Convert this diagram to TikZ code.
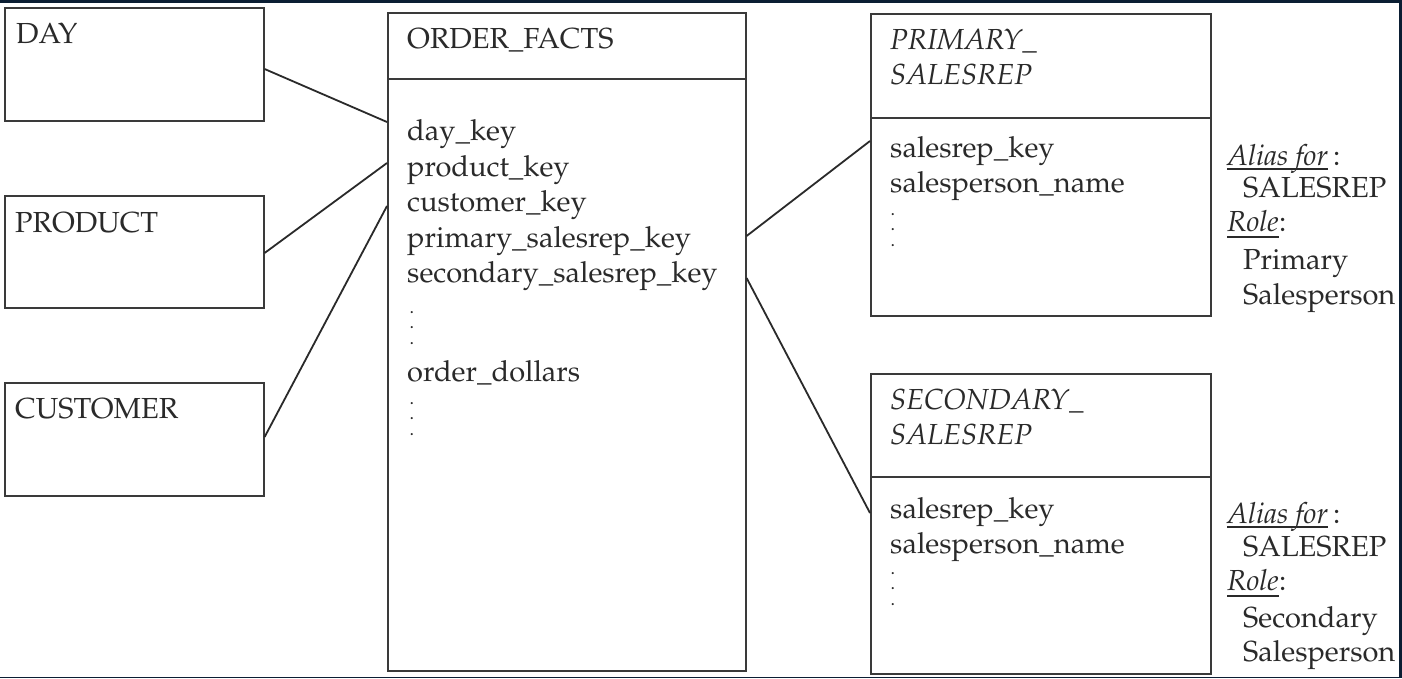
\documentclass[tikz,border=0pt]{standalone}
\usepackage[T1]{fontenc}
\usepackage{mathpazo}
\definecolor{navy}{HTML}{0B1E33}
\definecolor{boxline}{HTML}{3A3A3A}
\definecolor{ink}{HTML}{2A2A2A}
\tikzset{
  box/.style={draw=boxline, line width=1.6pt, anchor=north west, inner sep=0pt, fill=white},
  txt/.style={anchor=base west, inner sep=0pt, font=\fontsize{29}{35}\selectfont, text=ink},
  itxt/.style={txt, font=\fontsize{29}{35}\selectfont\itshape},
  dotmark/.style={anchor=base west, inner sep=0pt, font=\fontsize{14}{14}\selectfont\bfseries, text=ink},
  conn/.style={line width=1.8pt, draw=ink},
  divider/.style={line width=1.6pt, draw=boxline},
  uline/.style={line width=1.4pt, draw=ink},
}
\begin{document}
\begin{tikzpicture}[x=1pt,y=-1pt]
\useasboundingbox (0,0) rectangle (1402,678);
\fill[navy] (0,0) rectangle (1402,678);
\fill[white] (0,3) rectangle (1399,676.5);

% dimension boxes
\node[box, minimum width=259pt, minimum height=113pt] (day) at (4,7) {};
\node[box, minimum width=259pt, minimum height=112pt] (product) at (4,195) {};
\node[box, minimum width=259pt, minimum height=113pt] (customer) at (4,382) {};
\node[txt] (daylbl) at (16,43) {DAY};
\node[txt] (prodlbl) at (15,232) {PRODUCT};
\node[txt] (custlbl) at (15,418) {CUSTOMER};

% fact table
\node[box, minimum width=358pt, minimum height=658pt] (facts) at (387,12) {};
\draw[divider] (facts.west |- 0,79) -- (facts.east |- 0,79);
\node[txt] (factlbl) at (407,48) {ORDER\_FACTS};
\node[txt] (f1) at (407,140) {day\_key};
\node[txt] (f2) at (407,176) {product\_key};
\node[txt] (f3) at (407,211.5) {customer\_key};
\node[txt] (f4) at (407,247) {primary\_salesrep\_key};
\node[txt] (f5) at (407,282.5) {secondary\_salesrep\_key};
\node[dotmark] (fd1a) at (410,313) {.};
\node[dotmark] (fd1b) at (410,328.5) {.};
\node[dotmark] (fd1c) at (410,344) {.};
\node[txt] (f6) at (407,381) {order\_dollars};
\node[dotmark] (fd2a) at (410,404) {.};
\node[dotmark] (fd2b) at (410,419.5) {.};
\node[dotmark] (fd2c) at (410,435) {.};

% role-playing dimensions
\node[box, minimum width=340pt, minimum height=302pt] (prim) at (870,13) {};
\draw[divider] (prim.west |- 0,118) -- (prim.east |- 0,118);
\node[itxt] (p1) at (890,49) {PRIMARY\_};
\node[itxt] (p2) at (890,84) {SALESREP};
\node[txt] (p3) at (890,157) {salesrep\_key};
\node[txt] (p4) at (890,192) {salesperson\_name};
\node[dotmark] (pda) at (891,215) {.};
\node[dotmark] (pdb) at (891,230.5) {.};
\node[dotmark] (pdc) at (891,246) {.};

\node[box, minimum width=340pt, minimum height=300pt] (sec) at (870,373) {};
\draw[divider] (sec.west |- 0,477) -- (sec.east |- 0,477);
\node[itxt] (s1) at (890,409) {SECONDARY\_};
\node[itxt] (s2) at (890,444) {SALESREP};
\node[txt] (s3) at (890,518) {salesrep\_key};
\node[txt] (s4) at (890,553) {salesperson\_name};
\node[dotmark] (sda) at (891,574) {.};
\node[dotmark] (sdb) at (891,589.5) {.};
\node[dotmark] (sdc) at (891,605) {.};

% annotations
\node[itxt] (a1) at (1227,165) {Alias for};
\node[txt] (a1c) at (a1.base east) {\,:};
\draw[uline] ([yshift=-4pt]a1.base west) -- ([yshift=-4pt]a1.base east);
\node[txt] (a2) at (1243,197) {SALESREP};
\node[itxt] (r1) at (1227,231) {Role};
\node[txt] (r1c) at (r1.base east) {:};
\draw[uline] ([yshift=-6pt]r1.base west) -- ([yshift=-6pt]r1.base east);
\node[txt] (r2) at (1243,269) {Primary};
\node[txt] (r3) at (1243,304) {Salesperson};

\node[itxt] (b1) at (1227,523) {Alias for};
\node[txt] (b1c) at (b1.base east) {\,:};
\draw[uline] ([yshift=-4pt]b1.base west) -- ([yshift=-4pt]b1.base east);
\node[txt] (b2) at (1243,556) {SALESREP};
\node[itxt] (q1) at (1227,590) {Role};
\node[txt] (q1c) at (q1.base east) {:};
\draw[uline] ([yshift=-6pt]q1.base west) -- ([yshift=-6pt]q1.base east);
\node[txt] (q2) at (1243,627) {Secondary};
\node[txt] (q3) at (1243,661) {Salesperson};

% connectors
\draw[conn] (day.east |- 0,69) -- (facts.west |- 0,122);
\draw[conn] (product.east |- 0,253) -- (facts.west |- 0,163);
\draw[conn] (customer.east |- 0,437) -- (facts.west |- 0,206);
\draw[conn] (facts.east |- 0,236) -- (prim.west |- 0,141);
\draw[conn] (facts.east |- 0,278) -- (sec.west |- 0,513);
\end{tikzpicture}
\end{document}
